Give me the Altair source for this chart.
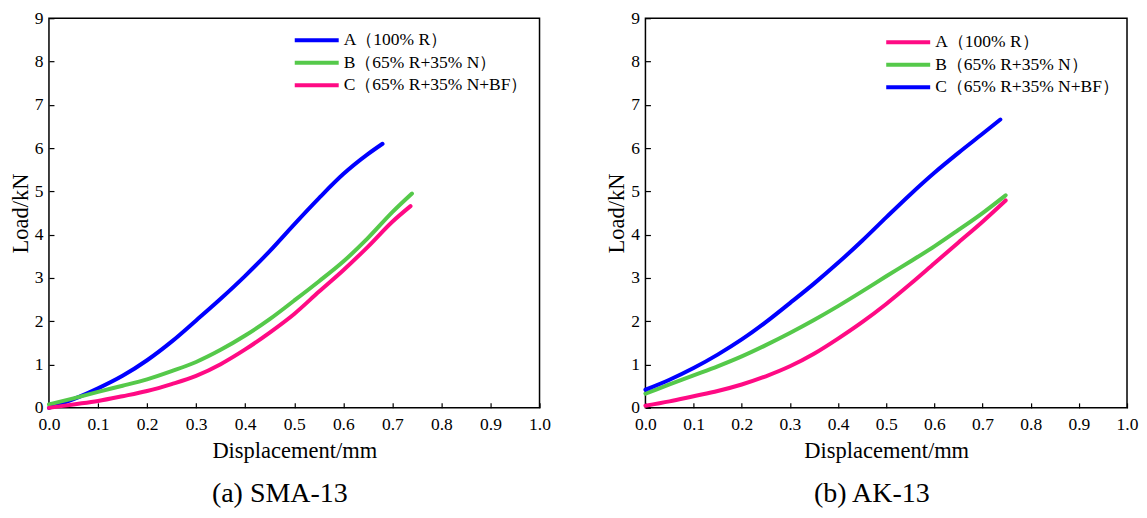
import altair as alt
import pandas as pd

# ---- data ----
series_names = ["A（100% R）", "B（65% R+35% N）", "C（65% R+35% N+BF）"]

# (a) SMA-13
a_x_A = [0, 0.05, 0.1, 0.15, 0.2, 0.25, 0.3, 0.35, 0.4, 0.45, 0.5, 0.55, 0.6, 0.65, 0.68]
a_y_A = [0, 0.2, 0.45, 0.74, 1.1, 1.53, 2.02, 2.52, 3.05, 3.62, 4.24, 4.84, 5.4, 5.86, 6.1]
a_x_B = [0, 0.05, 0.1, 0.15, 0.2, 0.25, 0.3, 0.35, 0.4, 0.45, 0.5, 0.55, 0.6, 0.65, 0.7, 0.74]
a_y_B = [0.08, 0.22, 0.37, 0.51, 0.66, 0.85, 1.06, 1.34, 1.67, 2.05, 2.48, 2.92, 3.38, 3.92, 4.52, 4.95]
a_x_C = [0, 0.05, 0.1, 0.15, 0.2, 0.25, 0.3, 0.35, 0.4, 0.45, 0.5, 0.55, 0.6, 0.65, 0.7, 0.737]
a_y_C = [0, 0.08, 0.16, 0.27, 0.39, 0.55, 0.74, 1.01, 1.35, 1.74, 2.17, 2.68, 3.18, 3.72, 4.3, 4.66]

# (b) AK-13
b_x_A = [0, 0.05, 0.1, 0.15, 0.2, 0.25, 0.3, 0.35, 0.4, 0.45, 0.5, 0.55, 0.6, 0.65, 0.7, 0.748]
b_y_A = [0.05, 0.15, 0.27, 0.39, 0.54, 0.73, 0.96, 1.25, 1.6, 1.98, 2.4, 2.86, 3.34, 3.82, 4.3, 4.79]
b_x_B = [0, 0.05, 0.1, 0.15, 0.2, 0.25, 0.3, 0.35, 0.4, 0.45, 0.5, 0.55, 0.6, 0.65, 0.7, 0.748]
b_y_B = [0.33, 0.54, 0.75, 0.96, 1.19, 1.45, 1.73, 2.03, 2.35, 2.69, 3.04, 3.38, 3.73, 4.11, 4.5, 4.91]
b_x_C = [0, 0.05, 0.1, 0.15, 0.2, 0.25, 0.3, 0.35, 0.4, 0.45, 0.5, 0.55, 0.6, 0.65, 0.7, 0.737]
b_y_C = [0.42, 0.65, 0.92, 1.23, 1.58, 1.98, 2.42, 2.87, 3.35, 3.86, 4.4, 4.93, 5.43, 5.89, 6.33, 6.66]

x_ticks = [0.0, 0.1, 0.2, 0.3, 0.4, 0.5, 0.6, 0.7, 0.8, 0.9, 1.0]
y_ticks = [0, 1, 2, 3, 4, 5, 6, 7, 8, 9]

BLUE = "#0000FF"
GREEN = "#55C94A"
PINK = "#FF0A84"
FONT = "Liberation Serif"


def long_df(xs_list, ys_list):
    rows = []
    for name, xs, ys in zip(series_names, xs_list, ys_list):
        for i, (x, y) in enumerate(zip(xs, ys)):
            rows.append({"series": name, "x": x, "y": y, "order": i})
    return pd.DataFrame(rows)


def panel(df, colors, caption, w, h, lx, ly):
    return (
        alt.Chart(df)
        .mark_line(strokeWidth=4, strokeCap="round", interpolate="monotone")
        .encode(
            x=alt.X(
                "x:Q",
                scale=alt.Scale(domain=[0, 1], nice=False),
                axis=alt.Axis(
                    title="Displacement/mm",
                    values=x_ticks,
                    format=".1f",
                    offset=-5,
                    tickSize=5,
                    labelPadding=8,
                    titlePadding=6,
                    labelFlush=False,
                ),
            ),
            y=alt.Y(
                "y:Q",
                scale=alt.Scale(domain=[0, 9], nice=False),
                axis=alt.Axis(
                    title="Load/kN",
                    values=y_ticks,
                    format="d",
                    offset=-5,
                    tickSize=5,
                    labelPadding=6,
                    titlePadding=2,
                    labelFlush=False,
                ),
            ),
            color=alt.Color(
                "series:N",
                scale=alt.Scale(domain=series_names, range=colors),
                legend=alt.Legend(
                    title=None,
                    orient="none",
                    legendX=lx,
                    legendY=ly,
                    padding=0,
                    symbolType="M-1,0H3",
                    symbolSize=484,
                    symbolStrokeWidth=4,
                    labelFont=FONT,
                    labelFontSize=17.5,
                    labelColor="#000000",
                    labelOffset=25,
                    labelLimit=400,
                    rowPadding=0.5,
                ),
            ),
            order="order:Q",
        )
        .properties(
            width=w,
            height=h,
            title=alt.TitleParams(
                text=caption, orient="bottom", font=FONT, fontSize=28,
                fontWeight="normal", color="#000000", offset=18,
                frame="bounds",
            ),
        )
    )


left = panel(long_df([a_x_A, a_x_B, a_x_C], [a_y_A, a_y_B, a_y_C]),
             [BLUE, GREEN, PINK], "(a) SMA-13", 491, 390, 244, 9)
right = panel(long_df([b_x_A, b_x_B, b_x_C], [b_y_A, b_y_B, b_y_C]),
              [PINK, GREEN, BLUE], "(b) AK-13", 482, 390, 239, 11)

chart = (
    alt.hconcat(left, right, spacing=53)
    .resolve_scale(color="independent")
    .properties(padding=0)
    .configure(background="#FFFFFF")
    .configure_view(stroke="#000000", strokeWidth=1.5)
    .configure_axis(
        grid=False,
        domain=False,
        tickColor="#000000",
        tickWidth=1.2,
        labelFont=FONT,
        labelFontSize=17.5,
        labelColor="#000000",
        titleFont=FONT,
        titleFontSize=22.5,
        titleFontWeight="normal",
        titleColor="#000000",
    )
)

chart.save("out.html", embed_options={"renderer": "svg", "actions": False})
